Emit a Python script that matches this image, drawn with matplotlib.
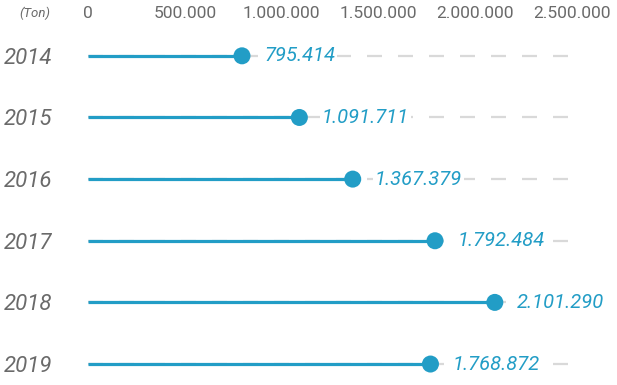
import numpy as np
from matplotlib import pyplot as plt

plt.rcParams['font.family'] = ['Roboto', 'DejaVu Sans']

years = ['2014', '2015', '2016', '2017', '2018', '2019']
values = [795414, 1091711, 1367379, 1792484, 2101290, 1768872]
tick_vals = [0, 500000, 1000000, 1500000, 2000000, 2500000]
tick_labels = ['0', '500.000', '1.000.000', '1.500.000', '2.000.000', '2.500.000']

blue = '#229dc6'
grey_dash = '#d9d9d9'
text_grey = '#6a6a6a'


def fmt(v):
    return f'{v:,}'.replace(',', '.')


fig = plt.figure(figsize=(6.17, 3.85), dpi=100)
ax = fig.add_axes([88 / 617, 0, (572 - 88) / 617, 360 / 385])
ax.set_xlim(0, 2500000)
ax.set_ylim(5.34, -0.5)

y = np.arange(len(years))
for i, v in enumerate(values):
    # background dashed guide
    ax.plot([0, 2495000], [i, i], color=grey_dash, lw=1.6,
            dashes=(6.75, 7.2), dash_capstyle='butt', zorder=1)
    # stem
    ax.plot([0, v], [i, i], color=blue, lw=2.3, solid_capstyle='butt', zorder=2)
    ax.annotate(fmt(v), (v, i), xytext=(16, 0), textcoords='offset points',
                ha='left', va='center', fontsize=14.5, style='italic',
                color=blue, zorder=4,
                bbox=dict(boxstyle='square,pad=0.1', fc='white', ec='none'))

ax.scatter(values, y, s=150, color=blue, zorder=3, edgecolors='none')

ax.set_yticks(y)
ax.set_yticklabels(years, fontsize=16, style='italic', color=text_grey)
ax.tick_params(axis='y', length=0, pad=43)
for lbl in ax.get_yticklabels():
    lbl.set_horizontalalignment('center')

ax.xaxis.tick_top()
ax.set_xticks(tick_vals)
ax.set_xticklabels(tick_labels, fontsize=12.5, color=text_grey)
ax.tick_params(axis='x', length=0, pad=3)

for s in ax.spines.values():
    s.set_visible(False)

fig.text(35 / 617, 1 - 13 / 385, '(Ton)', fontsize=9.5, style='italic',
         color=text_grey, ha='center', va='center')

fig.savefig('out.png', dpi=100)
